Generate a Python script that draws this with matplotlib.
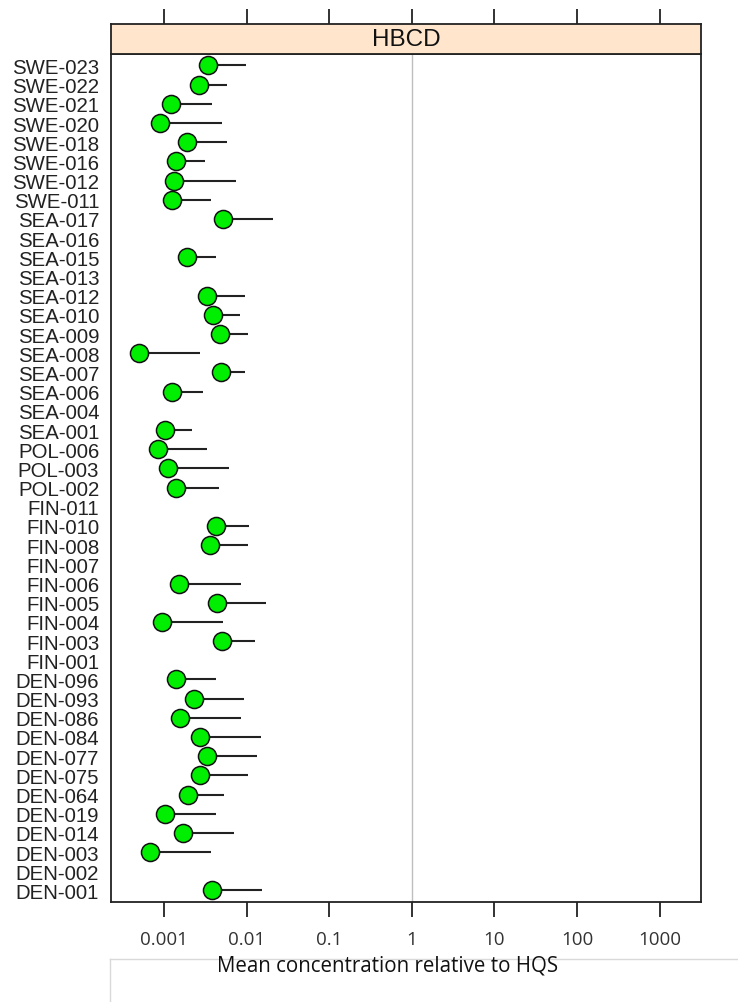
import numpy as np
from matplotlib import pyplot as plt
from matplotlib.lines import Line2D

# sites from top to bottom of the panel
sites = ['SWE-023','SWE-022','SWE-021','SWE-020','SWE-018','SWE-016','SWE-012','SWE-011',
         'SEA-017','SEA-016','SEA-015','SEA-013','SEA-012','SEA-010','SEA-009','SEA-008',
         'SEA-007','SEA-006','SEA-004','SEA-001','POL-006','POL-003','POL-002','FIN-011',
         'FIN-010','FIN-008','FIN-007','FIN-006','FIN-005','FIN-004','FIN-003','FIN-001',
         'DEN-096','DEN-093','DEN-086','DEN-084','DEN-077','DEN-075','DEN-064','DEN-019',
         'DEN-014','DEN-003','DEN-002','DEN-001']

# mean HBCD concentration relative to HQS (nan = no data)
mean_conc = [0.00338,0.00265,0.00121,0.000895,0.00191,0.00142,0.00132,0.00125,
             0.00514,np.nan,0.00191,np.nan,0.00332,0.00392,0.00476,0.000494,
             0.00494,0.00127,np.nan,0.00102,0.000853,0.00112,0.00142,np.nan,
             0.00426,0.0036,np.nan,0.00152,0.00438,0.000938,0.00508,np.nan,
             0.00142,0.00231,0.00156,0.00273,0.00329,0.0027,0.00194,0.00102,
             0.0017,0.000671,np.nan,0.00381]

# upper end of the range
upper_conc = [0.00975,0.00574,0.00378,0.0050,0.00574,0.00316,0.0075,0.00371,
              0.0210,np.nan,0.00423,np.nan,0.00957,0.00832,0.0104,0.0027,
              0.00957,0.00294,np.nan,0.00218,0.00334,0.00612,0.00467,np.nan,
              0.0106,0.0104,np.nan,0.0085,0.0173,0.00522,0.0126,np.nan,
              0.00423,0.0093,0.00863,0.0151,0.0135,0.0104,0.00537,0.00423,
              0.00703,0.00371,np.nan,0.0154]

xticks = [0.001, 0.01, 0.1, 1, 10, 100, 1000]
xticklabels = ['0.001', '0.01', '0.1', '1', '10', '100', '1000']

n = len(sites)
ypos = np.arange(n, 0, -1)

fig = plt.figure(figsize=(7.38, 10.03), dpi=100)
ax = fig.add_axes([0.1504, 0.0997, 0.7995, 0.8455])
strip = fig.add_axes([0.1504, 0.9452, 0.7995, 0.0299], sharex=ax)

ax.set_xscale('log')
ax.set_xlim(10**-3.64, 10**3.5)
ax.set_ylim(0.4, n + 0.6)

ax.axvline(1, color='#bebebe', lw=1, zorder=1)
ax.hlines(ypos, mean_conc, upper_conc, color='#222222', lw=1.5, zorder=2)
ax.plot(mean_conc, ypos, 'o', ms=13, mfc='#00ee00', mec='#111111', mew=1.1, zorder=3)

ax.set_yticks(ypos)
ax.set_yticklabels(sites, fontsize=14.7, family='Liberation Sans', color='#222222')
ax.tick_params(axis='y', length=0, pad=8.5)
ax.set_xticks(xticks)
ax.set_xticklabels(xticklabels, fontsize=13.5, family='Open Sans', color='#333333')
ax.xaxis.set_minor_locator(plt.NullLocator())
ax.tick_params(axis='x', direction='out', length=11, width=1.3, pad=9, color='#222222')
for s in ax.spines.values():
    s.set_linewidth(1.3)
    s.set_color('#222222')

# strip above the panel
strip.set_facecolor('#ffe5cc')
strip.set_yticks([])
strip.tick_params(axis='x', which='both', top=True, bottom=False, labeltop=False,
                  labelbottom=False, direction='out', length=11, width=1.3, color='#222222')
strip.xaxis.set_minor_locator(plt.NullLocator())
for s in strip.spines.values():
    s.set_linewidth(1.3)
    s.set_color('#222222')
strip.text(0.5, 0.5, 'HBCD', transform=strip.transAxes, ha='center', va='center',
           fontsize=17.5, family='Liberation Sans', color='#111111')

# faint frame lines below the axis title
fig.add_artist(Line2D([110/738, 1], [1 - 960/1003] * 2, color='#d9d9d9', lw=1, zorder=0))
fig.add_artist(Line2D([110/738] * 2, [0, 1 - 960/1003], color='#d9d9d9', lw=1, zorder=0))

fig.text(387.5/738, 1 - 966/1003, 'Mean concentration relative to HQS', ha='center',
         va='center', fontsize=14.8, family='Open Sans', color='#111111')

plt.savefig('out.png', dpi=100)
